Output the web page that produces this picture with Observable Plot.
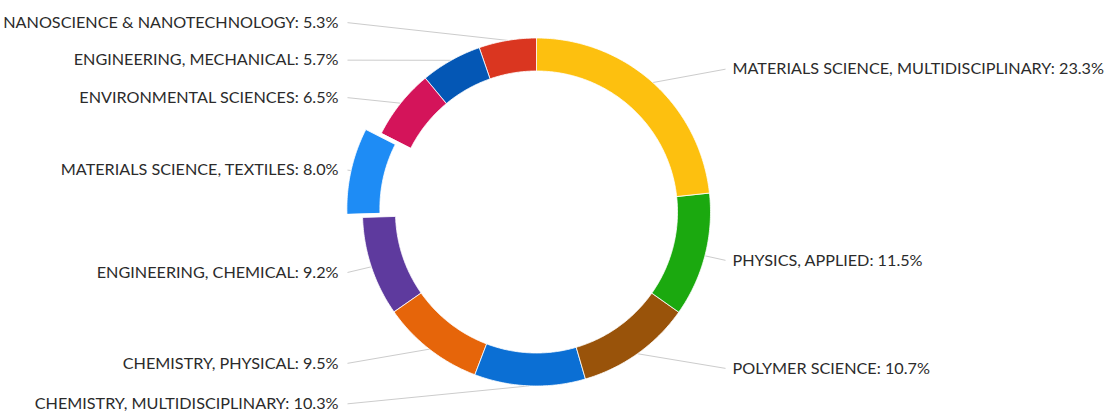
<!DOCTYPE html>
<html><head><meta charset="utf-8">
<script src="https://cdn.jsdelivr.net/npm/d3@7"></script>
<script src="https://cdn.jsdelivr.net/npm/@observablehq/plot@0.6"></script>
<style>html,body{margin:0;padding:0;background:#fff;}</style>
</head><body><div id="chart"></div>
<script>
// ---- data ----
const categories = [
  "MATERIALS SCIENCE, MULTIDISCIPLINARY",
  "PHYSICS, APPLIED",
  "POLYMER SCIENCE",
  "CHEMISTRY, MULTIDISCIPLINARY",
  "CHEMISTRY, PHYSICAL",
  "ENGINEERING, CHEMICAL",
  "MATERIALS SCIENCE, TEXTILES",
  "ENVIRONMENTAL SCIENCES",
  "ENGINEERING, MECHANICAL",
  "NANOSCIENCE & NANOTECHNOLOGY"
];
const values = [23.3, 11.5, 10.7, 10.3, 9.5, 9.2, 8.0, 6.5, 5.7, 5.3];
const colors = ["#fdc00f", "#1ba90f", "#99530a", "#0b6fd4", "#e6650a", "#5e3a9e", "#1e8cf5", "#d4145a", "#0457b5", "#da3620"];
const slicedCategory = "MATERIALS SCIENCE, TEXTILES";

// ---- layout ----
const W = 1105, H = 412;
const CX = 536, CY = 211.5, R = 174, R_IN = 141;
const SLICE_OFFSET = 16, LABEL_R = 192, LABEL_GAP = 37.5;
const LEFT_TEXT_X = 338, LEFT_LINE_X = 347, RIGHT_TEXT_X = 732, RIGHT_LINE_X = 725;
const FONT_SIZE = 16.2;

const total = d3.sum(values);
let acc = 0;
const slices = categories.map((name, i) => {
  const a0 = acc / total * 2 * Math.PI;
  acc += values[i];
  const a1 = acc / total * 2 * Math.PI;
  const mid = (a0 + a1) / 2;
  const off = name === slicedCategory ? SLICE_OFFSET : 0;
  return {name, value: values[i], a0, a1, mid, ox: off * Math.sin(mid), oy: off * Math.cos(mid)};
});

// slice polygons (x right, y up, relative to centre)
const poly = [];
for (const s of slices) {
  const n = Math.max(8, Math.ceil((s.a1 - s.a0) / 0.01));
  for (let k = 0; k <= n; k++) {
    const a = s.a0 + (s.a1 - s.a0) * k / n;
    poly.push({name: s.name, x: R * Math.sin(a) + s.ox, y: R * Math.cos(a) + s.oy});
  }
  for (let k = n; k >= 0; k--) {
    const a = s.a0 + (s.a1 - s.a0) * k / n;
    poly.push({name: s.name, x: R_IN * Math.sin(a) + s.ox, y: R_IN * Math.cos(a) + s.oy});
  }
}

// labels
const labels = slices.map(s => ({
  name: s.name,
  text: `${s.name}: ${s.value.toFixed(1)}%`,
  side: Math.sin(s.mid) < 0 ? "left" : "right",
  y: LABEL_R * Math.cos(s.mid),
  px: R * Math.sin(s.mid) + s.ox,
  py: R * Math.cos(s.mid) + s.oy
}));
for (const side of ["left", "right"]) {
  const g = labels.filter(d => d.side === side).sort((a, b) => b.y - a.y);
  for (let i = 1; i < g.length; i++) g[i].y = Math.min(g[i].y, g[i - 1].y - LABEL_GAP);
}
labels.forEach(d => {
  d.tx = (d.side === "left" ? LEFT_TEXT_X : RIGHT_TEXT_X) - CX;
  d.lx = (d.side === "left" ? LEFT_LINE_X : RIGHT_LINE_X) - CX;
});

const chart = Plot.plot({
  width: W, height: H, margin: 0,
  x: {domain: [-CX, W - CX], range: [0, W], axis: null},
  y: {domain: [-(H - CY), CY], range: [H, 0], axis: null},
  color: {domain: categories, range: colors},
  style: {fontFamily: "Lato, sans-serif", background: "#fff"},
  marks: [
    Plot.link(labels, {x1: "lx", y1: "y", x2: "px", y2: "py", stroke: "#cccccc", strokeWidth: 1}),
    Plot.line(poly, {x: "x", y: "y", z: "name", fill: "name", stroke: "white", strokeWidth: 0.8, curve: "linear-closed"}),
    Plot.text(labels.filter(d => d.side === "left"), {x: "tx", y: "y", text: "text", textAnchor: "end", fontSize: FONT_SIZE, fill: "#2b2b2b"}),
    Plot.text(labels.filter(d => d.side === "right"), {x: "tx", y: "y", text: "text", textAnchor: "start", fontSize: FONT_SIZE, fill: "#2b2b2b"})
  ]
});
document.getElementById("chart").appendChild(chart);
</script>
</body></html>
